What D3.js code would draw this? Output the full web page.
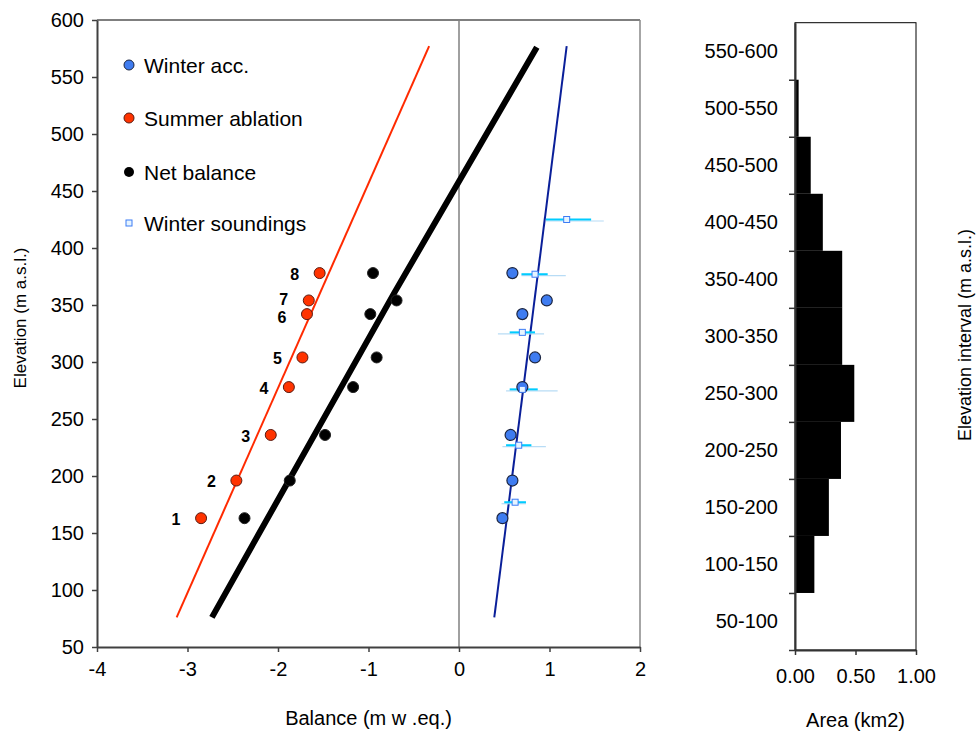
<!DOCTYPE html>
<html>
<head>
<meta charset="utf-8">
<script src="https://cdn.jsdelivr.net/npm/d3@7"></script>
<style>
  body { margin: 0; background: #fff; }
  svg { font-family: "Liberation Sans", Arial, sans-serif; }
</style>
</head>
<body>
<svg width="978" height="734"></svg>
<script>
// stake data (balance in m w.eq., elevation in m a.s.l.)
const stakeIds = ['1', '2', '3', '4', '5', '6', '7', '8'];
const stakeElev = [163, 196, 236, 278, 304, 342, 354, 378];
const summerBal = [-2.85, -2.46, -2.08, -1.88, -1.73, -1.68, -1.66, -1.54];
const netBal = [-2.37, -1.87, -1.48, -1.17, -0.91, -0.98, -0.69, -0.95];
const winterBal = [0.48, 0.59, 0.57, 0.70, 0.84, 0.70, 0.97, 0.59];

// winter soundings with error ranges
const soundElev = [425, 377, 326, 276, 227, 177];
const soundBal = [1.19, 0.84, 0.70, 0.70, 0.66, 0.62];
const soundSdLo = [0.96, 0.69, 0.56, 0.56, 0.52, 0.50];
const soundSdHi = [1.46, 0.98, 0.84, 0.87, 0.80, 0.74];
const soundRgLo = [0.96, 0.69, 0.43, 0.52, 0.48, 0.47];
const soundRgHi = [1.60, 1.18, 0.94, 1.09, 0.96, 0.74];

// fitted gradient lines [balance, elevation]
const summerLine = [[-3.12, 76], [-0.33, 577]];
const netLine = [[-2.73, 76], [-0.72, 360], [0.86, 576]];
const winterLine = [[0.39, 76], [1.19, 577]];

// hypsometry
const intervals = ['550-600', '500-550', '450-500', '400-450', '350-400', '300-350',
                   '250-300', '200-250', '150-200', '100-150', '50-100'];
const areas = [0, 0.03, 0.13, 0.23, 0.39, 0.39, 0.49, 0.38, 0.28, 0.16, 0];

const svg = d3.select('svg');

// ---------- left panel ----------
const x = d3.scaleLinear().domain([-4, 2]).range([97, 640]);
const y = d3.scaleLinear().domain([50, 600]).range([647, 20]);

const left = svg.append('g');

// frame: top black, right grey
left.append('line')
  .attr('x1', x(-4)).attr('x2', x(2))
  .attr('y1', y(600)).attr('y2', y(600))
  .attr('stroke', '#000').attr('stroke-width', 1.2);
left.append('line')
  .attr('x1', x(2)).attr('x2', x(2))
  .attr('y1', y(600)).attr('y2', y(50))
  .attr('stroke', '#888').attr('stroke-width', 1.5);

// zero line
left.append('line')
  .attr('x1', x(0)).attr('x2', x(0))
  .attr('y1', y(600)).attr('y2', y(50))
  .attr('stroke', '#808080').attr('stroke-width', 1.5);

const xAxisG = left.append('g')
  .attr('transform', `translate(0,${y(50)})`)
  .call(d3.axisBottom(x).tickValues(d3.range(-4, 3, 1)).tickFormat(d => String(d))
    .tickSize(5).tickSizeOuter(0).tickPadding(10));

const yAxisG = left.append('g')
  .attr('transform', `translate(${x(-4)},0)`)
  .call(d3.axisLeft(y).tickValues(d3.range(50, 601, 50)).tickSize(5).tickSizeOuter(0).tickPadding(8));

[xAxisG, yAxisG].forEach(g => {
  g.select('.domain').attr('stroke', '#404040').attr('stroke-width', 2);
  g.selectAll('.tick line').attr('stroke', '#404040').attr('stroke-width', 1.5);
  g.selectAll('.tick text').attr('font-size', 20).attr('fill', '#000')
    .attr('font-family', '"Liberation Sans", Arial, sans-serif');
});

left.append('text')
  .attr('x', (x(-4) + x(2)) / 2).attr('y', 725)
  .attr('text-anchor', 'middle').attr('font-size', 20)
  .text('Balance (m w .eq.)');

left.append('text')
  .attr('transform', `translate(26,318) rotate(-90)`)
  .attr('text-anchor', 'middle').attr('font-size', 17)
  .text('Elevation (m a.s.l.)');

// lines
const line = d3.line().x(d => x(d[0])).y(d => y(d[1]));
left.append('path').attr('d', line(summerLine))
  .attr('fill', 'none').attr('stroke', '#ff2a00').attr('stroke-width', 2);
left.append('path').attr('d', line(netLine))
  .attr('fill', 'none').attr('stroke', '#000').attr('stroke-width', 6);
left.append('path').attr('d', line(winterLine))
  .attr('fill', 'none').attr('stroke', '#0a1f99').attr('stroke-width', 2);

// soundings error bars
const sounds = soundElev.map((e, i) => ({
  e, b: soundBal[i], sl: soundSdLo[i], sh: soundSdHi[i], rl: soundRgLo[i], rh: soundRgHi[i]
}));
left.selectAll('.rg').data(sounds).enter().append('line')
  .attr('x1', d => x(d.rl)).attr('x2', d => x(d.rh))
  .attr('y1', d => y(d.e) + 1.5).attr('y2', d => y(d.e) + 1.5)
  .attr('stroke', '#b8dcf5').attr('stroke-width', 1.2);
left.selectAll('.sd').data(sounds).enter().append('line')
  .attr('x1', d => x(d.sl)).attr('x2', d => x(d.sh))
  .attr('y1', d => y(d.e)).attr('y2', d => y(d.e))
  .attr('stroke', '#00ccff').attr('stroke-width', 2);

// stake points
const stakes = stakeIds.map((id, i) => ({
  id, e: stakeElev[i], s: summerBal[i], n: netBal[i], w: winterBal[i]
}));
left.selectAll('.net').data(stakes).enter().append('circle')
  .attr('cx', d => x(d.n)).attr('cy', d => y(d.e)).attr('r', 5.5)
  .attr('fill', '#000').attr('stroke', '#222').attr('stroke-width', 1);
left.selectAll('.sum').data(stakes).enter().append('circle')
  .attr('cx', d => x(d.s)).attr('cy', d => y(d.e)).attr('r', 5.5)
  .attr('fill', '#ff3300').attr('stroke', '#5a1a10').attr('stroke-width', 1);
left.selectAll('.win').data(stakes).enter().append('circle')
  .attr('cx', d => x(d.w)).attr('cy', d => y(d.e)).attr('r', 5.5)
  .attr('fill', '#3f7cf0').attr('stroke', '#1c2540').attr('stroke-width', 1.2);

left.selectAll('.sq').data(sounds).enter().append('rect')
  .attr('x', d => x(d.b) - 3).attr('y', d => y(d.e) - 3)
  .attr('width', 6).attr('height', 6)
  .attr('fill', '#e6f4ff').attr('stroke', '#3d7cf5').attr('stroke-width', 1);

// stake numbers
left.selectAll('.lbl').data(stakes).enter().append('text')
  .attr('x', d => x(d.s) - 25)
  .attr('y', d => y(d.e) + (d.id === '7' ? -1 : d.id === '6' ? 3 : 1))
  .attr('dy', '0.35em')
  .attr('text-anchor', 'middle').attr('font-size', 16).attr('font-weight', 'bold')
  .text(d => d.id);

// legend
const legendItems = ['Winter acc.', 'Summer ablation', 'Net balance', 'Winter soundings'];
const legendY = [65, 118, 172, 223];
const lg = left.append('g');
lg.append('circle').attr('cx', 129).attr('cy', legendY[0]).attr('r', 5)
  .attr('fill', '#3f7cf0').attr('stroke', '#1c2540');
lg.append('circle').attr('cx', 129).attr('cy', legendY[1]).attr('r', 5)
  .attr('fill', '#ff3300').attr('stroke', '#5a1a10');
lg.append('circle').attr('cx', 129).attr('cy', legendY[2]).attr('r', 5)
  .attr('fill', '#000');
lg.append('rect').attr('x', 126).attr('y', legendY[3] - 3).attr('width', 6).attr('height', 6)
  .attr('fill', '#e6f4ff').attr('stroke', '#3d7cf5');
lg.selectAll('text').data(legendItems).enter().append('text')
  .attr('x', 144).attr('y', (d, i) => legendY[i]).attr('dy', '0.36em')
  .attr('font-size', 21).text(d => d);

// ---------- right panel ----------
const ax = d3.scaleLinear().domain([0, 1]).range([795, 916]);
const band = d3.scaleBand().domain(intervals).range([22.7, 650]).padding(0);
const ey = d3.scaleLinear().domain([50, 600]).range([650, 22.7]);

const right = svg.append('g');

right.selectAll('rect.bar').data(intervals).enter().append('rect')
  .attr('class', 'bar')
  .attr('x', ax(0)).attr('y', d => band(d))
  .attr('width', (d, i) => ax(areas[i]) - ax(0))
  .attr('height', band.bandwidth())
  .attr('fill', '#000');

right.append('rect')
  .attr('x', ax(0)).attr('y', band.range()[0])
  .attr('width', ax(1) - ax(0)).attr('height', 650 - 22.7)
  .attr('fill', 'none').attr('stroke', '#000').attr('stroke-width', 1);

const rx = right.append('g')
  .attr('transform', `translate(0,650)`)
  .call(d3.axisBottom(ax).tickValues([0, 0.5, 1]).tickFormat(d3.format('.2f'))
    .tickSize(5).tickSizeOuter(0).tickPadding(14));

const rtick = right.append('g')
  .attr('transform', `translate(${ax(0)},0)`)
  .call(d3.axisLeft(ey).tickValues(d3.range(50, 551, 50)).tickSize(6).tickFormat('').tickSizeOuter(0));

const rlab = right.append('g')
  .attr('transform', `translate(${ax(0)},0)`)
  .call(d3.axisLeft(band).tickSize(0).tickPadding(17));
rlab.select('.domain').remove();

[rx, rtick].forEach(g => {
  g.select('.domain').attr('stroke', '#333').attr('stroke-width', 2);
  g.selectAll('.tick line').attr('stroke', '#333').attr('stroke-width', 1.5);
});
[rx, rlab].forEach(g => {
  g.selectAll('.tick text').attr('font-size', 20).attr('fill', '#000')
    .attr('font-family', '"Liberation Sans", Arial, sans-serif');
});

right.append('text')
  .attr('x', (ax(0) + ax(1)) / 2).attr('y', 727)
  .attr('text-anchor', 'middle').attr('font-size', 20)
  .text('Area (km2)');

right.append('text')
  .attr('transform', `translate(971,335) rotate(-90)`)
  .attr('text-anchor', 'middle').attr('font-size', 18)
  .text('Elevation interval (m a.s.l.)');
</script>
</body>
</html>
